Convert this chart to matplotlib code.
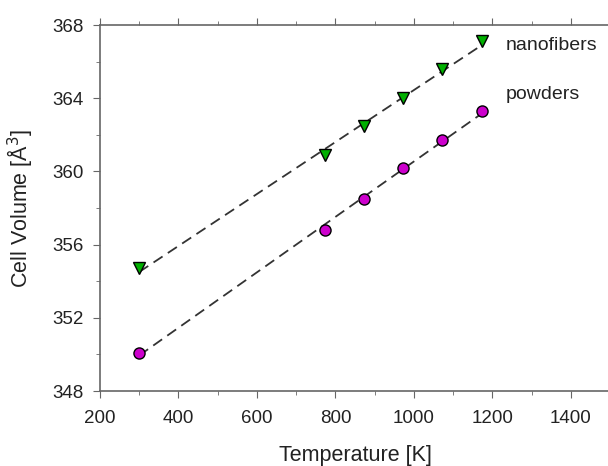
import numpy as np
import matplotlib
matplotlib.use("Agg")
import matplotlib.pyplot as plt
from matplotlib.ticker import MultipleLocator

plt.rcParams['font.family'] = ['Liberation Sans', 'DejaVu Sans']

temps = [300, 773, 873, 973, 1073, 1173]
nanofibers = [354.7, 360.9, 362.5, 364.0, 365.6, 367.1]
powders = [350.1, 356.8, 358.5, 360.2, 361.7, 363.3]
series_names = ["nanofibers", "powders"]

fig = plt.figure(figsize=(6.08, 4.66), dpi=100)
ax = fig.add_axes([100/608, 1-391/466, 510/608, 366/466])

T = np.array(temps, dtype=float)
for vals, col, mk in [(nanofibers, '#00b000', 'v'), (powders, '#cc00cc', 'o')]:
    p = np.polyfit(T, vals, 1)
    xx = np.array([T.min(), T.max()])
    ax.plot(xx, np.polyval(p, xx), ls=(0, (6, 3.5)), color='#333333', lw=1.3, zorder=2)
    ax.plot(T, vals, ls='none', marker=mk, ms=8 if mk == 'o' else 8.5, mfc=col,
            mec='black', mew=1.0, zorder=3)

ax.text(1235, nanofibers[-1] - 0.2, series_names[0], fontsize=14, va='center', ha='left', color='#222222')
ax.text(1235, powders[-1] + 0.9, series_names[1], fontsize=14, va='center', ha='left', color='#222222')

ax.set_xlim(200, 1500)
ax.set_ylim(348, 368)
ax.xaxis.set_major_locator(MultipleLocator(200))
ax.xaxis.set_minor_locator(MultipleLocator(100))
ax.yaxis.set_major_locator(MultipleLocator(4))
ax.yaxis.set_minor_locator(MultipleLocator(2))
ax.tick_params(which='both', direction='out', color='#666666', labelsize=13.5, labelcolor='#222222')
ax.tick_params(which='major', length=5)
ax.tick_params(which='minor', length=3)
ax.tick_params(axis='x', which='major', pad=9)
ax.tick_params(axis='y', which='major', pad=7)
ax.tick_params(axis='x', top=True, which='both', labeltop=False)
for s in ['left', 'bottom', 'top']:
    ax.spines[s].set_color('#666666')
    ax.spines[s].set_linewidth(1.2)
ax.spines['right'].set_visible(False)

ax.set_xlabel('Temperature [K]', fontsize=15.5, color='#222222', labelpad=13)
ax.set_ylabel('Cell Volume [Å$^3$]', fontsize=15.5, color='#222222', labelpad=12)

fig.savefig('out.png', dpi=100)
